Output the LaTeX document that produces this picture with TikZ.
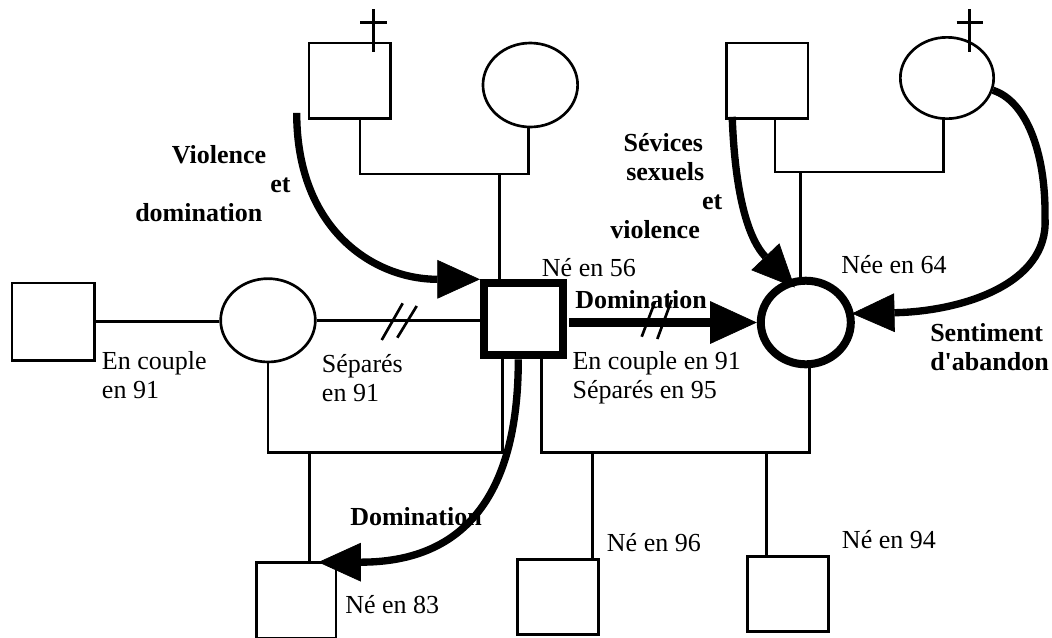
\documentclass[tikz,border=0pt]{standalone}
\usepackage{fontspec}
\setmainfont{Liberation Serif}
\usetikzlibrary{arrows.meta,shapes.geometric}
\begin{document}
\begin{tikzpicture}[x=0.75pt,y=-0.75pt,
  ln/.style={line width=2pt},
  sq/.style={draw, rectangle, line width=2pt, inner sep=0pt, minimum width=61pt, minimum height=56.5pt},
  el/.style={draw, ellipse, line width=2pt, inner sep=0pt, minimum width=71pt, minimum height=62.5pt},
  thickshape/.style={line width=6pt},
  arr/.style={line width=5.5pt, -{Triangle[length=32pt,width=29pt,line width=0.5pt]}},
  arrh/.style={line width=6.4pt, -{Triangle[length=35pt,width=32pt,line width=0.5pt]}},
  txt/.style={font=\fontsize{19.5pt}{21.75pt}\selectfont, inner sep=0pt, anchor=base west},
  btxt/.style={txt, font=\fontsize{19.5pt}{21.75pt}\selectfont\bfseries}
]
\fill[white] (0,0) rectangle (1052,637);
\useasboundingbox (0,0) rectangle (1052,637);

% persons
\node[sq, minimum width=61pt, minimum height=56.7pt] (gf1) at (349.7,80.8) {};
\node[el, minimum width=71pt, minimum height=63pt] (gm1) at (530.3,85) {};
\node[sq] (gf2) at (767.2,80.8) {};
\node[el, minimum width=70pt, minimum height=61pt] (gm2) at (947,78) {};
\node[sq, minimum width=61.7pt, minimum height=58pt] (lm) at (53.2,321.7) {};
\node[el] (lw) at (268,320.3) {};
\node[sq, thickshape, minimum width=59pt, minimum height=54pt] (ego) at (523.3,319.3) {};
\node[el, thickshape, minimum width=67.5pt, minimum height=62.7pt] (partner) at (805.8,322.5) {};
\node[sq, minimum width=59.7pt, minimum height=57pt] (c1) at (296.2,600.5) {};
\node[sq] (c2) at (558,597) {};
\node[sq] (c3) at (788,594) {};

% death crosses
\draw[ln] (373.3,9.3) -- (373.3,51.7);
\draw[ln] (360,22.7) -- (387.3,22.7);
\draw[ln] (969.3,9.3) -- (969.3,51.7);
\draw[ln] (956.7,22.7) -- (983.3,22.7);

% junction coordinates
\coordinate (m1) at (499.3,174);
\coordinate (m2) at (800.7,172);
\coordinate (f1) at (502.7,452.7);
\coordinate (f2) at (541.7,452.4);
\coordinate (j1) at (309.3,452.7);
\coordinate (j2) at (592.7,452.4);
\coordinate (j3) at (766.7,452.4);
\coordinate (bend) at (1045,218);

% family lines
\draw[ln] ([xshift=7.7pt]gf1.south) |- ([xshift=-1.5pt]gm1.south |- m1) -- ([xshift=-1.5pt]gm1.south);
\draw[ln] (m1) -- (m1 |- ego.north);
\draw[ln] ([xshift=5.85pt]gf2.south) |- ([xshift=-2.8pt]gm2.south |- m2) -- ([xshift=-2.8pt]gm2.south);
\draw[ln] (m2) -- (m2 |- partner.north);
\draw[ln] (lm.east) -- (lm.east -| lw.west);
\draw[ln] (lw.east) -- (lw.east -| ego.west);
\draw[ln] (lw.south) |- (f1) -- (f1 |- ego.south);
\draw[ln] (j1) -- (j1 |- c1.north);
\draw[ln] (f2 |- ego.south) -- (f2) -| ([xshift=2.6pt]partner.south);
\draw[ln] (j2) -- (j2 |- c2.north);
\draw[ln] (j3) -- (j3 |- c3.north);

% separation marks
\draw[ln] (381.7,340) -- (402.7,303.3);
\draw[ln] (397.3,337.7) -- (416.7,306);

% relation arrows
\draw[arr] ([shift={(-11,-7)}]gf1.south west) .. controls +(0,117) and +(-106,0) .. (ego.north west);
\draw[arr] ([shift={(7,-3)}]gf2.south west) .. controls +(3,83) and +(-45,-47) .. ([shift={(-11,-35)}]partner.center);
\draw[arr] (gm2.-15) .. controls +(32,10) and +(1,-68) .. (bend) .. controls +(4,67) and +(108,-2) .. ([shift={(46,-9)}]partner.center);
\draw[arrh] ([xshift=2pt]ego.east |- partner.west) -- (partner.west);
\draw[arr] ([shift={(-5,0)}]ego.south) .. controls +(0,141) and +(142,0) .. ([shift={(22,1)}]c1.north);

\draw[ln] (641.7,336.7) -- (655,301.7);
\draw[ln] (657.3,339) -- (671.7,300);

% labels (multi-line labels are placed by the baseline of their last line)
\node[txt] (t56) at (541.7,276.7) {Né en 56};
\node[txt] (t64) at (841,273.3) {Née en 64};
\node[btxt] (tdom1) at (575,308.3) {Domination};
\node[txt, align=left] (tcouple2) at (572.3,398.3) {En couple en 91\\Séparés en 95};
\node[txt, align=left] (tcouple1) at (101.7,398.3) {En couple\\en 91};
\node[txt, align=left] (tsep1) at (321.7,401) {Séparés\\en 91};
\node[btxt, align=left] (tviol) at (135,221.7) {\hspace*{27.5pt}Violence\\\hspace*{101.25pt}et\\domination};
\node[btxt, align=left] (tsev) at (610,238.3) {\hspace*{10pt}Sévices\\\hspace*{12pt}sexuels\\\hspace*{68.8pt}et\\violence};
\node[btxt, align=left] (tsent) at (930,370) {Sentiment\\d\textquotesingle abandon};
\node[btxt] (tdom2) at (350,525) {Domination};
\node[txt] (t83) at (345,613.3) {Né en 83};
\node[txt] (t96) at (606.7,551.7) {Né en 96};
\node[txt] (t94) at (841.7,548.3) {Né en 94};
\end{tikzpicture}
\end{document}
